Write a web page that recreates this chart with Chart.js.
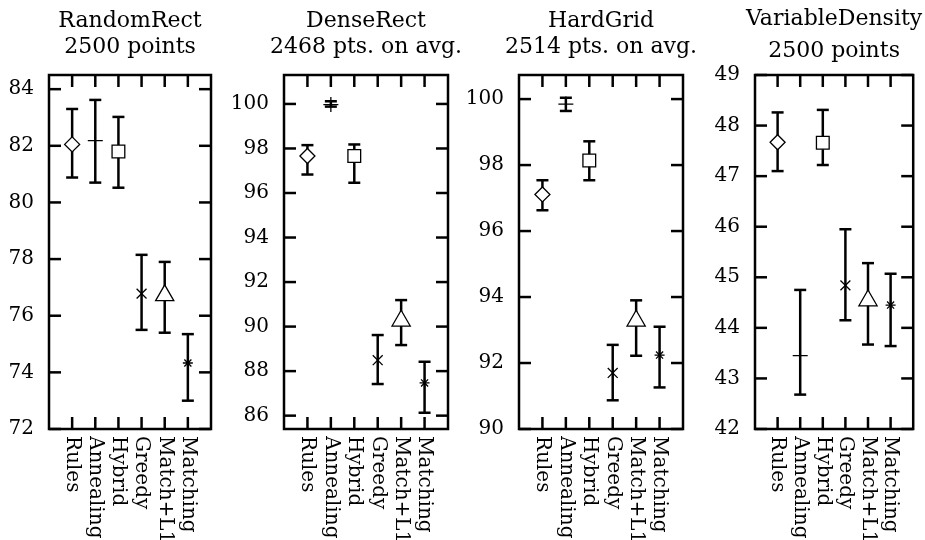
<!DOCTYPE html>
<html>
<head>
<meta charset="utf-8">
<script src="https://cdn.jsdelivr.net/npm/chart.js@4.4.0/dist/chart.umd.min.js"></script>
<style>
  body { margin: 0; background: #fff; }
  #wrap { position: relative; width: 925px; height: 540px; }
  #wrap canvas { position: absolute; left: 0; top: 0; }
</style>
</head>
<body>
<div id="wrap"></div>
<script>
const methods = ['Rules', 'Annealing', 'Hybrid', 'Greedy', 'Match+L1', 'Matching']

const randomRectTitle = ['RandomRect', '2500 points']
const randomRectMean = [82.05, 82.18, 81.8, 76.78, 76.72, 74.33]
const randomRectLow = [80.88, 80.7, 80.52, 75.5, 75.4, 73.0]
const randomRectHigh = [83.3, 83.62, 83.02, 78.15, 77.9, 75.35]
const randomRectTicks = [72, 74, 76, 78, 80, 82, 84]

const denseRectTitle = ['DenseRect', '2468 pts. on avg.']
const denseRectMean = [97.66, 99.97, 97.66, 88.49, 90.26, 87.47]
const denseRectLow = [96.83, 99.88, 96.46, 87.42, 89.17, 86.13]
const denseRectHigh = [98.15, 100.12, 98.18, 89.62, 91.19, 88.42]
const denseRectTicks = [86, 88, 90, 92, 94, 96, 98, 100]

const hardGridTitle = ['HardGrid', '2514 pts. on avg.']
const hardGridMean = [97.11, 99.85, 98.14, 91.7, 93.28, 92.24]
const hardGridLow = [96.63, 99.64, 97.54, 90.87, 92.22, 91.26]
const hardGridHigh = [97.54, 100.04, 98.72, 92.55, 93.9, 93.1]
const hardGridTicks = [90, 92, 94, 96, 98, 100]

const varDensityTitle = ['VariableDensity', '2500 points']
const varDensityMean = [47.67, 43.45, 47.66, 44.84, 44.54, 44.45]
const varDensityLow = [47.1, 42.68, 47.22, 44.15, 43.67, 43.64]
const varDensityHigh = [48.26, 44.75, 48.31, 45.95, 45.28, 45.07]
const varDensityTicks = [42, 43, 44, 45, 46, 47, 48, 49]

// marker per method, like the gnuplot point types
const markers = ['rectRot', 'cross', 'rect', 'crossRot', 'triangle', 'star']
const markerSize = [7.5, 7.5, 9, 7, 10.5, 5]

const serif = '"DejaVu Serif", "Liberation Serif", serif'

const panels = [
    { title: randomRectTitle, mean: randomRectMean, low: randomRectLow, high: randomRectHigh, ticks: randomRectTicks,
      min: 72, max: 84.5, left: 49, right: 211, titleY: [27, 53] },
    { title: denseRectTitle, mean: denseRectMean, low: denseRectLow, high: denseRectHigh, ticks: denseRectTicks,
      min: 85.4, max: 101.3, left: 284, right: 448, titleY: [27, 53] },
    { title: hardGridTitle, mean: hardGridMean, low: hardGridLow, high: hardGridHigh, ticks: hardGridTicks,
      min: 90, max: 100.73, left: 519, right: 683, titleY: [27, 53] },
    { title: varDensityTitle, mean: varDensityMean, low: varDensityLow, high: varDensityHigh, ticks: varDensityTicks,
      min: 42, max: 49, left: 755, right: 918, titleY: [25, 57] }
]

const W = 925, H = 540, TOP = 75, BOTTOM = 429

const line = (ctx, x1, y1, x2, y2) => {
    ctx.beginPath()
    ctx.moveTo(x1, y1)
    ctx.lineTo(x2, y2)
    ctx.stroke()
}

function panelPlugin(p) {
    return {
        id: 'panelDecor',
        beforeDatasetsDraw(chart) {
            const ctx = chart.ctx, xs = chart.scales.x, ys = chart.scales.y
            ctx.save()
            ctx.strokeStyle = '#000'
            ctx.lineWidth = 2.5
            p.mean.forEach((m, i) => {
                const x = xs.getPixelForValue(i + 1)
                const y1 = ys.getPixelForValue(p.low[i])
                const y2 = ys.getPixelForValue(p.high[i])
                line(ctx, x, y1, x, y2)
                line(ctx, x - 6, y1, x + 6, y1)
                line(ctx, x - 6, y2, x + 6, y2)
            })
            ctx.restore()
        },
        afterDraw(chart) {
            const ctx = chart.ctx, a = chart.chartArea, xs = chart.scales.x, ys = chart.scales.y
            ctx.save()
            ctx.strokeStyle = '#000'
            ctx.lineWidth = 2.5
            ctx.strokeRect(a.left, a.top, a.right - a.left, a.bottom - a.top)
            p.ticks.forEach(v => {
                const y = ys.getPixelForValue(v)
                line(ctx, a.left, y, a.left + 12, y)
                line(ctx, a.right - 12, y, a.right, y)
            })
            ctx.fillStyle = '#000'
            ctx.font = '20px ' + serif
            methods.forEach((name, i) => {
                const x = xs.getPixelForValue(i + 1)
                line(ctx, x, a.top, x, a.top + 12)
                line(ctx, x, a.bottom - 12, x, a.bottom)
                ctx.save()
                ctx.translate(x, a.bottom + 7)
                ctx.rotate(Math.PI / 2)
                ctx.textAlign = 'left'
                ctx.textBaseline = 'middle'
                ctx.fillText(name, 0, 0)
                ctx.restore()
            })
            ctx.font = '22px ' + serif
            ctx.textAlign = 'center'
            ctx.textBaseline = 'alphabetic'
            const cx = (a.left + a.right) / 2
            ctx.fillText(p.title[0], cx, p.titleY[0])
            ctx.fillText(p.title[1], cx, p.titleY[1])
            ctx.restore()
        }
    }
}

const wrap = document.getElementById('wrap')

panels.forEach(p => {
    const canvas = document.createElement('canvas')
    canvas.width = W
    canvas.height = H
    wrap.appendChild(canvas)
    const yw = Math.min(p.left, 60)

    new Chart(canvas, {
        type: 'scatter',
        data: {
            datasets: [{
                data: p.mean.map((m, i) => ({ x: i + 1, y: m })),
                pointStyle: markers,
                pointRadius: markerSize,
                pointHoverRadius: markerSize,
                pointBorderColor: '#000',
                pointBackgroundColor: '#fff',
                pointBorderWidth: 1.3,
                showLine: false
            }]
        },
        options: {
            responsive: false,
            animation: false,
            events: [],
            layout: { padding: { left: p.left - yw, right: W - p.right, top: TOP, bottom: H - BOTTOM } },
            plugins: { legend: { display: false }, title: { display: false }, tooltip: { enabled: false } },
            scales: {
                x: { type: 'linear', min: 0, max: 7, display: false },
                y: {
                    min: p.min,
                    max: p.max,
                    grid: { display: false, drawTicks: false },
                    border: { display: false },
                    afterBuildTicks: s => { s.ticks = p.ticks.map(v => ({ value: v })) },
                    afterFit: s => { s.width = yw },
                    ticks: { color: '#000', padding: 15, font: { family: serif, size: 20 } }
                }
            }
        },
        plugins: [panelPlugin(p)]
    })
})
</script>
</body>
</html>
